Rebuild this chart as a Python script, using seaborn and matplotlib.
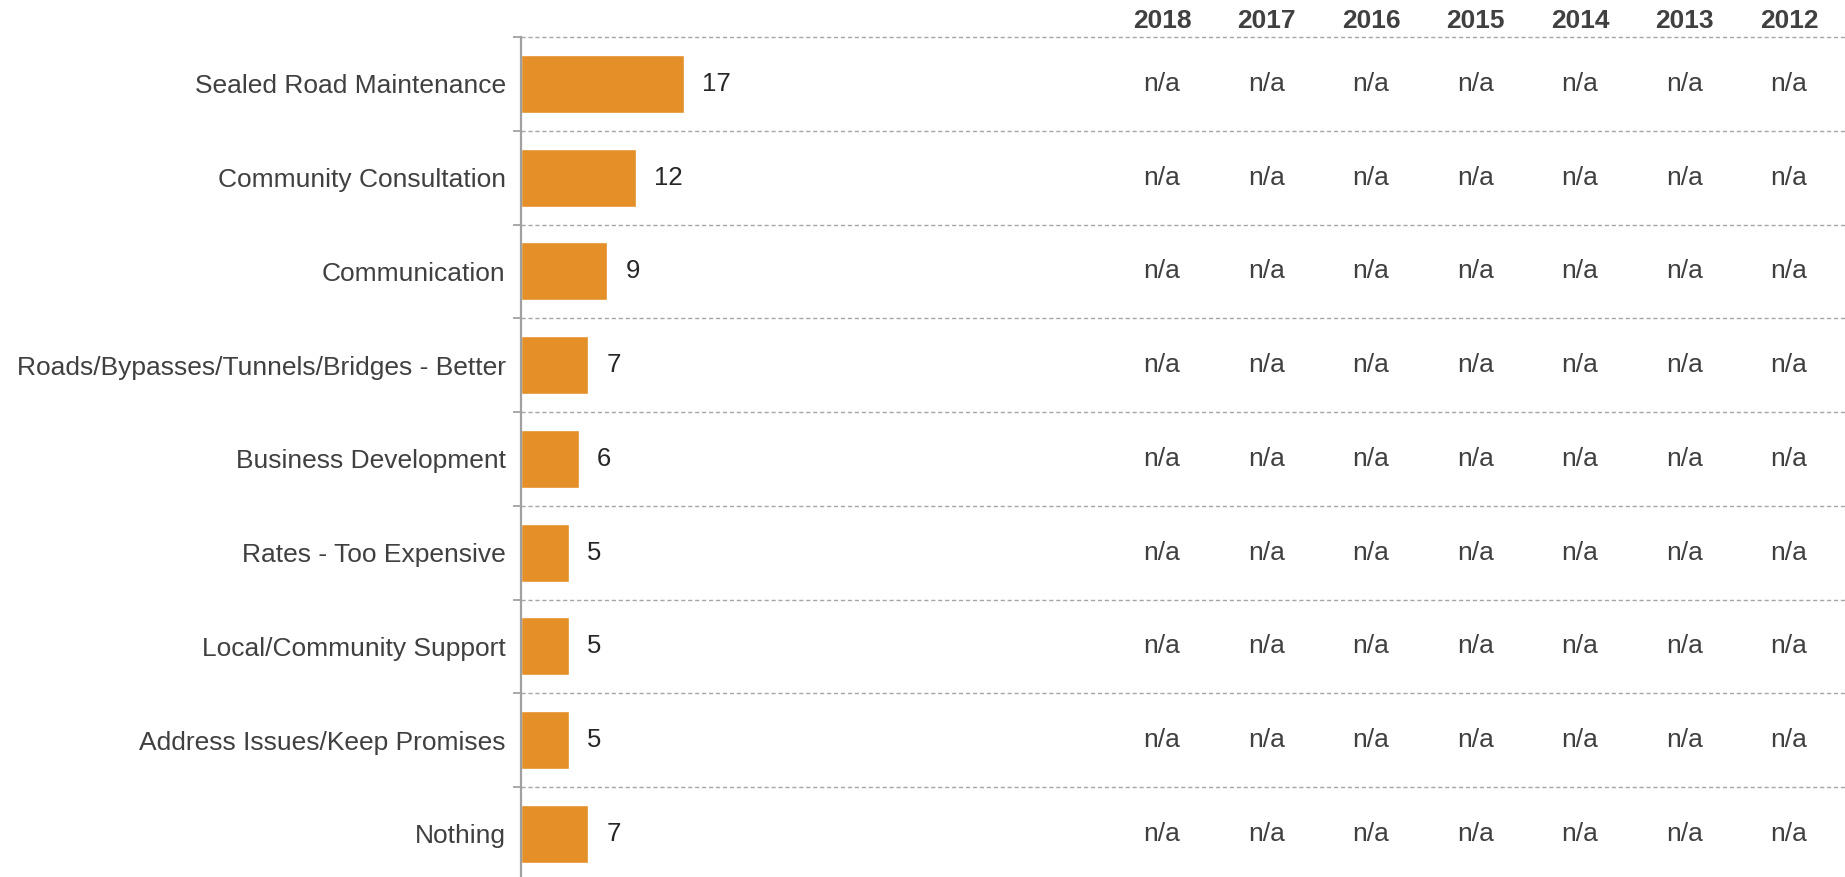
import matplotlib
matplotlib.use("Agg")
import matplotlib.pyplot as plt
from matplotlib.transforms import blended_transform_factory
import numpy as np
import pandas as pd
import seaborn as sns

categories = [
    "Sealed Road Maintenance",
    "Community Consultation",
    "Communication",
    "Roads/Bypasses/Tunnels/Bridges - Better",
    "Business Development",
    "Rates - Too Expensive",
    "Local/Community Support",
    "Address Issues/Keep Promises",
    "Nothing",
]
values = [17, 12, 9, 7, 6, 5, 5, 5, 7]
years = ["2018", "2017", "2016", "2015", "2014", "2013", "2012"]
history = ["n/a"] * len(years)

sns.set_theme(style="white")
plt.rcParams["font.family"] = ["Liberation Sans", "DejaVu Sans"]

W, H = 1845, 877
fig = plt.figure(figsize=(W / 100, H / 100), dpi=100)
ax = fig.add_axes([521 / W, 0, 1 - 521 / W, 1 - 37 / H])

df = pd.DataFrame({"category": categories, "value": values})
sns.barplot(data=df, x="value", y="category", orient="h", color="#E48F28",
            saturation=1, width=0.62, ax=ax)

n = len(categories)
ax.set_xlim(0, (W - 521) / 9.6)
ax.set_ylim(n - 0.54, -0.5)
ax.set_xlabel("")
ax.set_ylabel("")
ax.set_xticks([])

# category labels at row centres, tick marks at row boundaries
ax.set_yticks(np.arange(n))
ax.set_yticklabels(categories)
ax.tick_params(axis="y", which="major", length=0, pad=11, labelsize=19,
               labelcolor="#404040")
bounds = np.arange(n) - 0.5
ax.set_yticks(bounds, minor=True)
ax.tick_params(axis="y", which="minor", length=6, width=1.2, color="#9a9a9a",
               left=True)

for y in bounds:
    ax.axhline(y, color="#a6a6a6", linestyle=(0, (3, 2)), linewidth=1.0,
               zorder=0, clip_on=False)

for s in ["top", "right", "bottom"]:
    ax.spines[s].set_visible(False)
ax.spines["left"].set_color("#a0a0a0")
ax.spines["left"].set_linewidth(1.6)

ax.bar_label(ax.containers[0], labels=[str(v) for v in values], padding=13,
             fontsize=18.5, color="#262626")

# historical comparison columns
col_x = [(1162 + i * 104.5) / W for i in range(len(years))]
trans = blended_transform_factory(fig.transFigure, ax.transData)
for x, yr, h in zip(col_x, years, history):
    fig.text(x, 1 - 21 / H, yr, ha="center", va="center", fontsize=19,
             fontweight="bold", color="#404040")
    for row in range(n):
        ax.text(x, row, h, transform=trans, ha="center", va="center",
                fontsize=19, color="#404040")

fig.savefig("out.png", dpi=100)
